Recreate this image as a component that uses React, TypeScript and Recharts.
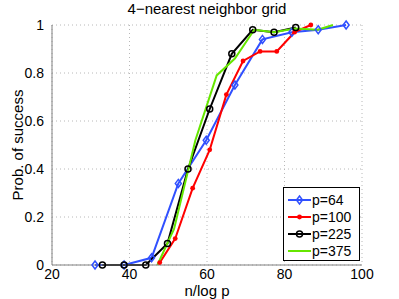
import { LineChart, Line, XAxis, YAxis, CartesianGrid } from "recharts";

// values (n/log p vs probability of success)
const n64 = [31.1, 38.6, 45.7, 52.6, 59.8, 67.2, 74.3, 81.9, 88.7, 95.9];
const prob64 = [0, 0, 0.03, 0.34, 0.52, 0.75, 0.94, 0.97, 0.98, 1.0];

const n100 = [47.8, 51.8, 56.3, 60.7, 65.0, 69.3, 73.7, 78.0, 82.6, 86.8];
const prob100 = [0.01, 0.11, 0.32, 0.48, 0.71, 0.85, 0.89, 0.89, 0.97, 1.0];

const n225 = [33.0, 38.6, 44.2, 49.8, 55.1, 60.7, 66.4, 71.8, 77.3, 82.9];
const prob225 = [0, 0, 0, 0.09, 0.4, 0.65, 0.88, 0.98, 0.97, 0.99];

const n375 = [47.2, 51.5, 57.0, 62.5, 67.2, 72.2, 77.3, 82.7, 88.6, 92.5];
const prob375 = [0, 0.15, 0.52, 0.79, 0.86, 0.98, 0.97, 0.985, 0.98, 1.0];

const xTicks = [20, 40, 60, 80, 100];
const yTicks = [0, 0.2, 0.4, 0.6, 0.8, 1];

const toPoints = (xs: number[], ys: number[]) => xs.map((x, i) => ({ x, y: ys[i] }));

type Marker = "diamond" | "dot" | "circle" | "none";

const series: { name: string; color: string; marker: Marker; data: { x: number; y: number }[] }[] = [
  { name: "p=64", color: "#3050ff", marker: "diamond", data: toPoints(n64, prob64) },
  { name: "p=100", color: "#ff0000", marker: "dot", data: toPoints(n100, prob100) },
  { name: "p=225", color: "#000000", marker: "circle", data: toPoints(n225, prob225) },
  { name: "p=375", color: "#66e600", marker: "none", data: toPoints(n375, prob375) },
];

const drawMarker = (marker: Marker, color: string, cx: number, cy: number, key?: any) => {
  if (marker === "diamond")
    return (
      <path
        key={key}
        d={`M${cx},${cy - 4}L${cx + 3},${cy}L${cx},${cy + 4}L${cx - 3},${cy}Z`}
        fill="none"
        stroke={color}
        strokeWidth={1.5}
      />
    );
  if (marker === "dot") return <circle key={key} cx={cx} cy={cy} r={2.4} fill={color} />;
  if (marker === "circle")
    return <circle key={key} cx={cx} cy={cy} r={3} fill="none" stroke={color} strokeWidth={1.5} />;
  return <g key={key} />;
};

const LegendBox = () => (
  <div
    style={{
      position: "absolute",
      left: 283,
      top: 187,
      width: 77,
      height: 74,
      border: "1px solid #000",
      background: "#fff",
      paddingTop: 3,
      boxSizing: "border-box",
    }}
  >
    {series.map((s) => (
      <div key={s.name} style={{ display: "flex", alignItems: "center", height: 17, fontSize: 14 }}>
        <svg width={25} height={12} style={{ marginLeft: 3 }}>
          <line x1={1} y1={6} x2={24} y2={6} stroke={s.color} strokeWidth={2} />
          {drawMarker(s.marker, s.color, 12.5, 6)}
        </svg>
        <span style={{ color: "#000" }}>{s.name}</span>
      </div>
    ))}
  </div>
);

const YLabel = (props: any) => {
  const vb = props.viewBox || { x: 0, y: 25, width: 52, height: 240 };
  const cx = vb.x + 17;
  const cy = vb.y + vb.height / 2;
  return (
    <text
      x={cx}
      y={cy}
      transform={`rotate(-90 ${cx} ${cy})`}
      textAnchor="middle"
      dominantBaseline="central"
      fontSize={15}
      fill="#000"
    >
      Prob. of success
    </text>
  );
};

const App = () => {
  return (
    <div
      style={{
        position: "fixed",
        left: 0,
        top: 0,
        width: 399,
        height: 299,
        background: "#fff",
        fontFamily: "'Liberation Sans', Arial, sans-serif",
      }}
    >
      <div
        style={{
          position: "absolute",
          left: 52,
          width: 310,
          top: 0,
          textAlign: "center",
          fontSize: 15,
          color: "#000",
        }}
      >
        4−nearest neighbor grid
      </div>
      <LineChart width={399} height={299} margin={{ top: 25, right: 37, left: 0, bottom: 0 }}>
        <CartesianGrid stroke="#b8b8b8" strokeDasharray="1 3" />
        <XAxis
          dataKey="x"
          type="number"
          domain={[20, 100]}
          ticks={xTicks}
          allowDataOverflow
          height={34}
          stroke="#808080"
          tickLine={false}
          tickSize={0}
          tickMargin={4}
          tick={{ fill: "#000", fontSize: 14 }}
          interval={0}
          label={{ value: "n/log p", position: "insideBottom", offset: 3, fontSize: 15, fill: "#000" }}
        />
        <YAxis
          dataKey="y"
          type="number"
          domain={[0, 1]}
          ticks={yTicks}
          width={52}
          stroke="#808080"
          tickLine={false}
          tickSize={0}
          tickMargin={8}
          tick={{ fill: "#000", fontSize: 14 }}
          interval={0}
          tickFormatter={(v: number) => String(v)}
          label={{ content: YLabel }}
        />
        {series.map((s) => (
          <Line
            key={s.name}
            data={s.data}
            dataKey="y"
            name={s.name}
            type="linear"
            stroke={s.color}
            strokeWidth={2}
            isAnimationActive={false}
            activeDot={false}
            dot={
              s.marker === "none"
                ? false
                : (p: any) => drawMarker(s.marker, s.color, p.cx, p.cy, `${s.name}-${p.index}`)
            }
          />
        ))}
      </LineChart>
      <LegendBox />
    </div>
  );
};

export default App;
